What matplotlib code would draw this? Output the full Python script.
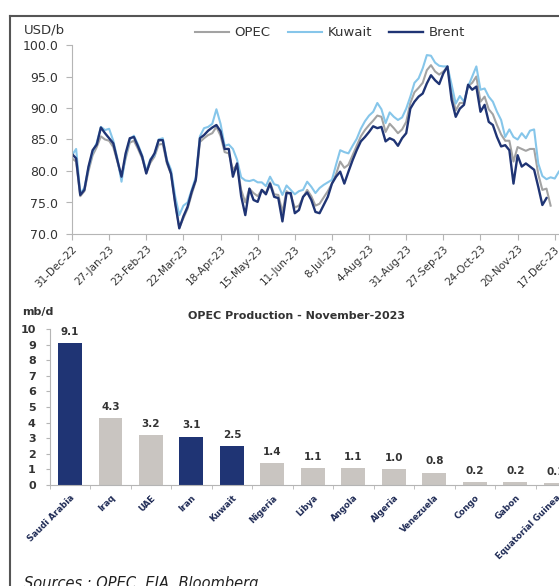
import numpy as np
import pandas as pd
import matplotlib
matplotlib.use("Agg")
import matplotlib.pyplot as plt
import matplotlib.dates as mdates
from matplotlib.lines import Line2D
from matplotlib.ticker import FixedLocator

# price data, one value every 3 days starting 31-Dec-22 (USD/b)
brent = [82.7, 82.0, 76.2, 77.0, 80.7, 83.3, 84.2, 86.9, 86.0, 85.2, 84.4, 81.7,
         79.1, 82.8, 85.2, 85.4, 83.9, 82.3, 79.6, 81.7, 82.8, 84.9, 84.9, 81.5,
         79.6, 74.9, 70.9, 72.8, 74.3, 76.7, 78.6, 85.2, 85.7, 86.4, 86.9, 87.3,
         86.3, 83.5, 83.5, 79.1, 81.2, 76.0, 73.0, 77.2, 75.4, 75.1, 77.0, 76.3,
         78.0, 75.9, 75.7, 72.0, 76.5, 76.5, 73.3, 73.8, 75.9, 76.6, 75.4, 73.5,
         73.3, 74.6, 75.9, 78.0, 79.1, 79.9, 78.0, 79.9, 81.7, 83.3, 84.7, 85.4,
         86.2, 87.1, 86.8, 87.0, 84.7, 85.2, 84.9, 84.0, 85.2, 86.0, 89.9, 91.0,
         91.8, 92.3, 93.9, 95.2, 94.4, 93.8, 95.5, 96.6, 91.3, 88.6, 89.9, 90.5,
         93.7, 92.9, 93.4, 89.4, 90.5, 87.8, 87.3, 85.4, 83.9, 84.1, 83.3, 78.0,
         82.5, 80.7, 81.2, 80.7, 80.2, 77.5, 74.6, 75.7]

kuwait = [82.5, 83.5, 76.5, 77.3, 80.5, 83.0, 84.5, 87.0, 86.5, 86.7, 84.8, 82.0,
          78.3, 82.5, 85.0, 85.6, 84.2, 82.5, 80.0, 81.9, 82.5, 85.0, 85.2, 81.8,
          80.2, 76.0, 73.0, 74.5, 75.0, 77.0, 79.0, 85.5, 86.8, 87.0, 87.5, 89.8,
          87.5, 84.0, 84.2, 83.5, 81.8, 79.0, 78.5, 78.4, 78.6, 78.2, 78.2, 77.6,
          79.1, 77.9, 77.7, 76.2, 77.7, 77.0, 76.3, 76.8, 77.0, 78.3, 77.5, 76.5,
          77.3, 77.8, 78.2, 78.6, 81.0, 83.3, 83.0, 82.8, 84.0, 85.1, 86.7, 87.9,
          88.8, 89.4, 90.8, 89.8, 87.6, 89.3, 88.6, 88.1, 88.5, 89.9, 91.8, 94.0,
          94.7, 96.3, 98.4, 98.3, 97.2, 96.7, 96.6, 96.6, 93.7, 90.7, 91.9, 91.0,
          93.4, 95.0, 96.6, 92.9, 93.1, 91.8, 91.0, 89.4, 88.1, 85.4, 86.6, 85.4,
          85.0, 86.0, 85.2, 86.4, 86.6, 81.2, 79.2, 78.7, 79.0, 78.8, 79.9]

opec = [82.0, 81.5, 76.0, 76.8, 80.0, 82.5, 83.8, 85.5, 85.0, 84.8, 83.8, 81.5,
        79.0, 82.0, 84.5, 84.8, 83.5, 82.0, 79.8, 81.3, 82.3, 84.2, 84.3, 81.2,
        79.5, 75.0, 71.0, 72.5, 74.0, 76.3, 78.4, 84.6, 85.2, 85.7, 86.0, 87.0,
        85.6, 83.0, 82.8, 80.2, 81.0, 77.0, 75.0, 77.2, 76.5, 76.0, 77.0, 76.5,
        78.2, 76.3, 76.2, 73.5, 76.8, 76.2, 74.2, 74.5, 75.8, 77.0, 76.0, 74.5,
        74.8, 75.8, 76.8, 78.0, 79.5, 81.5, 80.5, 81.0, 82.5, 84.0, 85.5, 86.5,
        87.3, 88.0, 88.8, 88.6, 86.2, 87.5, 86.8, 86.0, 86.6, 87.8, 90.8, 92.5,
        93.2, 94.0, 96.0, 96.8, 95.8, 95.3, 95.8, 96.5, 92.5, 89.6, 90.8, 90.8,
        93.5, 94.0, 95.0, 91.0, 91.8, 89.8, 89.0, 87.3, 85.8, 84.8, 84.8, 81.5,
        83.8, 83.5, 83.2, 83.5, 83.5, 79.5, 77.0, 77.2, 74.5]

# OPEC production, November 2023 (mb/d)
countries = ["Saudi Arabia", "Iraq", "UAE", "Iran", "Kuwait", "Nigeria", "Libya",
             "Angola", "Algeria", "Venezuela", "Congo", "Gabon", "Equatorial Guinea"]
production = [9.1, 4.3, 3.2, 3.1, 2.5, 1.4, 1.1, 1.1, 1.0, 0.8, 0.2, 0.2, 0.1]
highlight = ["Saudi Arabia", "Iran", "Kuwait"]

NAVY = "#1f3474"
LBLUE = "#86c6ea"
GREY = "#a3a3a3"
BARGREY = "#c9c5c1"
TXT = "#333333"
SPINE = "#b5b5b5"

W, H = 559, 586
fig = plt.figure(figsize=(W / 100, H / 100), dpi=100)

def fx(px):
    return px / W

def fy(py):
    return (H - py) / H

# outer frame (runs off the right and bottom edges, as in the screenshot)
fig.add_artist(Line2D([fx(10), fx(10)], [0, fy(16)], color="#555555", lw=1.5))
fig.add_artist(Line2D([fx(10), 1], [fy(16), fy(16)], color="#555555", lw=1.5))

# ---------- price chart ----------
start = pd.Timestamp("2022-12-31")
ax = fig.add_axes([fx(72), fy(234), fx(574) - fx(72), fy(45) - fy(234)])
for vals, col, lab, lw in [(opec, GREY, "OPEC", 1.5), (kuwait, LBLUE, "Kuwait", 1.5),
                           (brent, NAVY, "Brent", 1.7)]:
    dates = pd.date_range(start, periods=len(vals), freq="3D")
    ax.plot(dates, vals, color=col, lw=lw, label=lab)

ax.set_xlim(start, pd.Timestamp("2023-12-31"))
ax.set_ylim(70, 100)
ax.set_yticks(np.arange(70, 100.1, 5))
ax.yaxis.set_major_formatter(plt.FuncFormatter(lambda v, p: f"{v:.1f}"))
ticks = pd.date_range(start, periods=14, freq="27D")
ax.set_xticks(ticks)
ax.xaxis.set_major_formatter(mdates.DateFormatter("%-d-%b-%y"))
for s in ["top", "right"]:
    ax.spines[s].set_visible(False)
for s in ["left", "bottom"]:
    ax.spines[s].set_color(SPINE)
ax.tick_params(axis="y", length=4, color=SPINE, labelsize=9, labelcolor=TXT, pad=6)
ax.tick_params(axis="x", length=4, color=SPINE, labelsize=7.5, labelcolor=TXT, pad=3)
for t in ax.get_xticklabels():
    t.set_rotation(45)
    t.set_ha("right")
    t.set_va("top")
    t.set_rotation_mode("anchor")

fig.text(fx(24), fy(30), "USD/b", fontsize=9.5, color=TXT, va="center")
fig.legend(*ax.get_legend_handles_labels(), loc="center", bbox_to_anchor=(fx(330), fy(33)),
           ncol=3, frameon=False, fontsize=9.5, handlelength=2.6, handletextpad=0.4,
           columnspacing=1.3, labelcolor=TXT)

# ---------- production chart ----------
bx = fig.add_axes([fx(49.75), fy(485), fx(576) - fx(49.75), fy(329) - fy(485)])
xpos = np.arange(len(countries))
colors = [NAVY if c in highlight else BARGREY for c in countries]
bars = bx.bar(xpos, production, width=0.59, color=colors)
for b, v in zip(bars, production):
    bx.text(b.get_x() + b.get_width() / 2, v + 0.4, f"{v:.1f}", ha="center", va="bottom",
            fontsize=7.5, fontweight="bold", color=TXT)
bx.set_xlim(-0.5, len(countries) - 0.5)
bx.set_ylim(0, 10)
bx.set_yticks(range(0, 11))
bx.set_xticks(xpos)
bx.set_xticklabels(countries)
bx.xaxis.set_minor_locator(FixedLocator(np.arange(-0.5, len(countries), 1)))
for s in ["top", "right"]:
    bx.spines[s].set_visible(False)
for s in ["left", "bottom"]:
    bx.spines[s].set_color(SPINE)
bx.tick_params(axis="y", length=3, color=SPINE, labelsize=8, labelcolor=TXT, pad=7)
bx.tick_params(axis="x", which="major", length=0, labelsize=6.2, labelcolor="#1e2a55", pad=6)
bx.tick_params(axis="x", which="minor", length=3, color=SPINE)
for t in bx.get_yticklabels():
    t.set_fontweight("bold")
for t in bx.get_xticklabels():
    t.set_rotation(45)
    t.set_ha("right")
    t.set_va("top")
    t.set_rotation_mode("anchor")
    t.set_fontweight("bold")

fig.text(fx(296), fy(316), "OPEC Production - November-2023", ha="center", va="center",
         fontsize=8, fontweight="bold", color=TXT)
fig.text(fx(22), fy(312), "mb/d", fontsize=8, fontweight="bold", color=TXT, va="center")

fig.text(fx(24), fy(576), "Sources : OPEC, EIA, Bloomberg", fontsize=10.5, style="italic",
         color="#222222", va="top")

fig.savefig("out.png", dpi=100)
